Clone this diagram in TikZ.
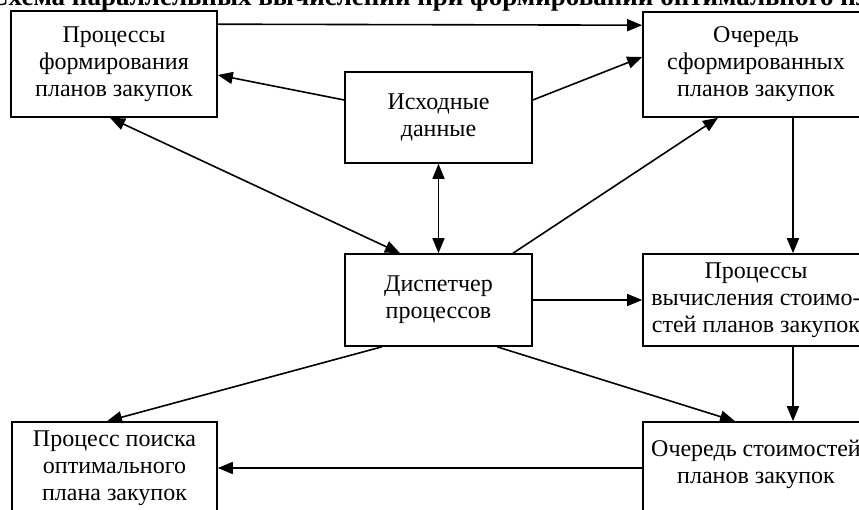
\documentclass[tikz,border=0pt]{standalone}
\usepackage{fontspec}
\setmainfont{Liberation Serif}
\usetikzlibrary{arrows.meta,calc}
\tikzset{
  box/.style={draw, line width=1.6pt, inner sep=0pt, align=center, font=\fontsize{24}{27}\selectfont},
  arr/.style={line width=1.6pt, -{Triangle[length=15pt,width=12pt]}},
  darr/.style={line width=1.6pt, {Triangle[length=15pt,width=12pt]}-{Triangle[length=15pt,width=12pt]}},
}
\begin{document}
\begin{tikzpicture}[x=1pt,y=-1pt]
\useasboundingbox (0,0) rectangle (859,510);
\clip (0,0) rectangle (859,510);
\fill[white] (0,0) rectangle (859,510);
\node[anchor=base west, font=\fontsize{27}{27}\selectfont\bfseries, inner sep=0pt] (T) at (-11,6) {Схема параллельных вычислений при формировании оптимального плана};
\node[box, minimum width=206, minimum height=106] (A) at (114,64) {Процессы\\формирования\\планов закупок};
\node[box, minimum width=226, minimum height=105] (B) at (756,64.5) {Очередь\\сформированных\\планов закупок};
\node[box, minimum width=187, minimum height=91] (C) at (438.5,117.5) {Исходные\\данные};
\node[box, minimum width=187, minimum height=92] (D) at (438.5,300) {Диспетчер\\процессов};
\node[box, minimum width=226, minimum height=92] (E) at (756,300) {Процессы\\вычисления стоимо-\\стей планов закупок};
\node[box, minimum width=226, minimum height=92] (F) at (756,468) {Очередь стоимостей\\планов закупок\\[-15pt]\mbox{}};
\node[box, minimum width=205, minimum height=92] (G) at (114.5,468) {Процесс поиска\\оптимального\\плана закупок};
\draw[arr] ($(A.north east)+(0,14)$) -- ($(B.north west)+(0,14)$);
\draw[arr] ($(C.west)+(0,-17.5)$) -- ($(A.east)+(0,11)$);
\draw[arr] ($(C.east)+(0,-17.5)$) -- ($(B.west)+(0,-7.5)$);
\draw[darr] ($(A.south)+(-4,0)$) -- ($(D.north)+(-38.5,0)$);
\draw[darr] (C.south) -- (D.north);
\draw[arr] ($(D.north)+(74.5,0)$) -- ($(B.south)+(-38,0)$);
\draw[arr] (D.east) -- (E.west);
\draw[arr] ($(B.south)+(37,0)$) -- ($(E.north)+(37,0)$);
\draw[arr] ($(E.south)+(37,0)$) -- ($(F.north)+(37,0)$);
\draw[arr] ($(D.south)+(58.5,0)$) -- ($(F.north)+(-21,0)$);
\draw[arr] ($(D.south)+(-56.5,0)$) -- ($(G.north)+(-7.5,0)$);
\draw[arr] (F.west) -- (G.east);
\end{tikzpicture}
\end{document}
